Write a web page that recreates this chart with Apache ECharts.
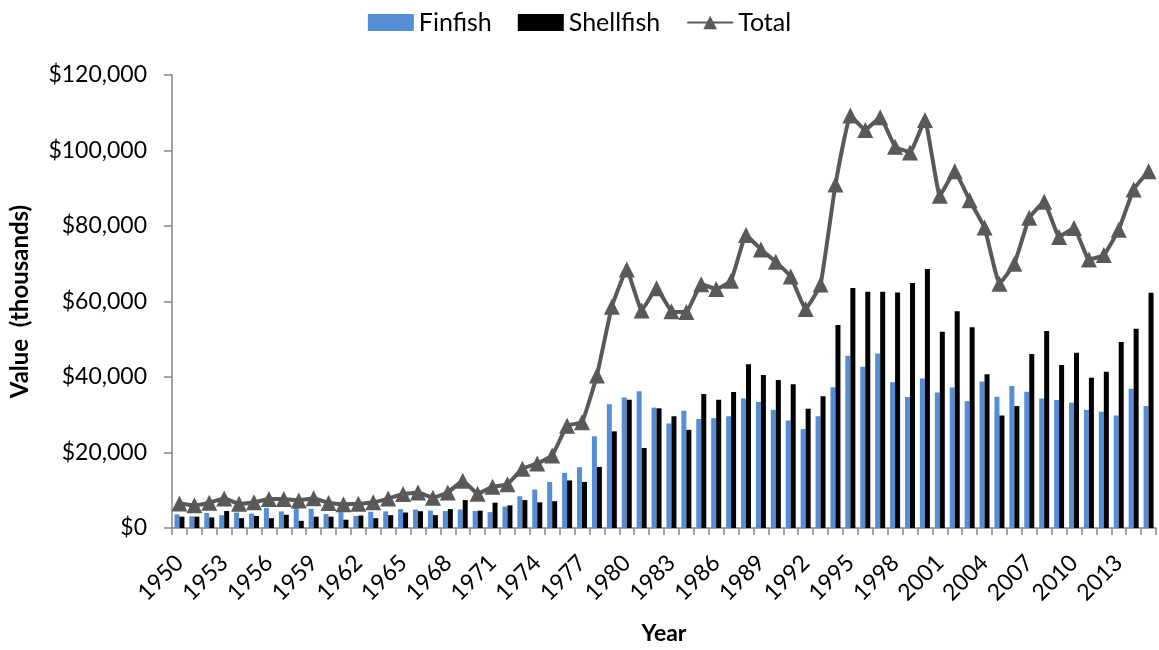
<!DOCTYPE html>
<html>
<head>
<meta charset="utf-8">
<script src="https://cdn.jsdelivr.net/npm/echarts@6/dist/echarts.min.js"></script>
<style>
    html, body { margin: 0; padding: 0; background: #fff; }
    #main { width: 1159px; height: 650px; }
</style>
</head>
<body>
<div id="main"></div>
<script>
// 年份
var years = ['1950','1951','1952','1953','1954','1955','1956','1957','1958','1959',
    '1960','1961','1962','1963','1964','1965','1966','1967','1968','1969',
    '1970','1971','1972','1973','1974','1975','1976','1977','1978','1979',
    '1980','1981','1982','1983','1984','1985','1986','1987','1988','1989',
    '1990','1991','1992','1993','1994','1995','1996','1997','1998','1999',
    '2000','2001','2002','2003','2004','2005','2006','2007','2008','2009',
    '2010','2011','2012','2013','2014','2015'];

// 单位：千美元
var finfish = [3600,3100,4000,3400,4100,3800,5300,4400,5500,5100,
    3700,4200,3200,4300,4400,5000,4900,4600,4500,4900,
    4500,4200,5700,8400,10200,12200,14600,16100,24300,32800,
    34600,36200,31900,27700,31100,28900,29100,29600,34300,33400,
    31300,28500,26200,29600,37300,45600,42700,46200,38600,34700,
    39600,35900,37200,33600,38800,34800,37600,36100,34300,33900,
    33200,31300,30800,29800,36900,32300];

var shellfish = [3000,3000,2800,4500,2600,3200,2600,3500,1900,3000,
    3000,2200,3300,2600,3400,4100,4450,3400,5000,7400,
    4600,6700,6000,7400,6800,7100,12600,12200,16200,25600,
    34000,21200,31700,29600,26000,35500,34000,36000,43400,40500,
    39200,38100,31600,34900,53800,63600,62600,62600,62400,64900,
    68600,52000,57400,53200,40700,29800,32300,46100,52200,43200,
    46400,39800,41400,49300,52800,62300];

var total = [6500,6000,6700,7800,6400,6800,7700,7700,7300,7900,
    6600,6300,6400,6800,7800,9000,9400,8000,9400,12500,
    9100,10900,11600,15700,17100,19200,27100,28000,40400,58600,
    68500,57600,63500,57400,57200,64600,63300,65500,77600,73800,
    70500,66600,58000,64500,91000,109300,105400,108800,101000,99500,
    108100,88000,94500,86800,79600,64700,70000,82200,86400,77100,
    79500,71100,72300,79000,89700,94500];

var yTicks = [0, 20000, 40000, 60000, 80000, 100000, 120000];

function money(v) {
    return '$' + String(v).replace(/\B(?=(\d{3})+(?!\d))/g, ',');
}

var myChart = echarts.init(document.getElementById('main'));
var font = 'Lato, "Liberation Sans", sans-serif';
var option = {
    animation: false,
    color: ['#558ed5', '#000000', '#595959'],
    textStyle: { fontFamily: font },
    legend: {
        top: 5,
        left: 'center',
        itemWidth: 46,
        itemHeight: 17,
        itemGap: 26,
        textStyle: { fontFamily: font, fontSize: 25, color: '#000' },
        data: [
            { name: 'Finfish', icon: 'rect' },
            { name: 'Shellfish', icon: 'rect' },
            { name: 'Total' }
        ]
    },
    grid: {
        top: 75,
        left: 172,
        right: 3,
        bottom: 121
    },
    xAxis: {
        type: 'category',
        data: years,
        name: 'Year',
        nameLocation: 'middle',
        nameGap: 94,
        nameTextStyle: { fontFamily: font, fontSize: 23, fontWeight: 'bold', color: '#000' },
        axisLine: { lineStyle: { color: '#868686', width: 1.5 } },
        axisTick: {
            show: true,
            alignWithLabel: false,
            interval: 0,
            length: 7,
            lineStyle: { color: '#868686', width: 1.5 }
        },
        axisLabel: {
            interval: 2,
            rotate: 45,
            margin: 31,
            color: '#000',
            fontFamily: font,
            fontSize: 23
        }
    },
    yAxis: {
        type: 'value',
        min: yTicks[0],
        max: yTicks[yTicks.length - 1],
        interval: 20000,
        name: 'Value  (thousands)',
        nameLocation: 'middle',
        nameGap: 140,
        nameTextStyle: { fontFamily: font, fontSize: 24, fontWeight: 'bold', color: '#000' },
        splitLine: { show: false },
        axisLine: { show: true, lineStyle: { color: '#868686', width: 1.5 } },
        axisTick: { show: true, length: 8, lineStyle: { color: '#868686', width: 1.5 } },
        axisLabel: {
            margin: 25,
            color: '#000',
            fontFamily: font,
            fontSize: 23,
            formatter: money
        }
    },
    series: [{
        name: 'Finfish',
        type: 'bar',
        barWidth: 5,
        barGap: '0%',
        data: finfish
    }, {
        name: 'Shellfish',
        type: 'bar',
        barWidth: 5,
        barGap: '0%',
        data: shellfish
    }, {
        name: 'Total',
        type: 'line',
        smooth: 0.1,
        symbol: 'triangle',
        symbolSize: 16,
        showAllSymbol: true,
        lineStyle: { color: '#595959', width: 4 },
        itemStyle: { color: '#595959' },
        data: total
    }]
};
myChart.clear();
myChart.setOption(option);
</script>
</body>
</html>
